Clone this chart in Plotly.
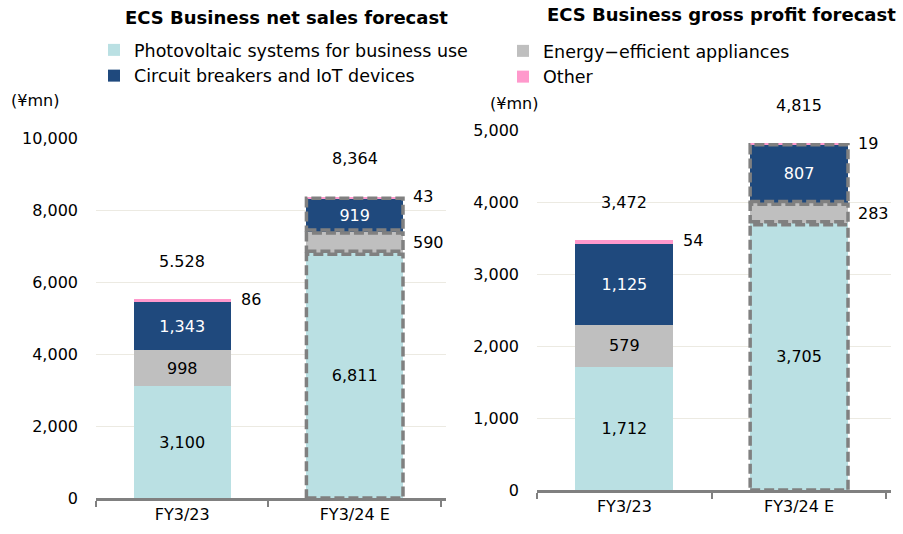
import plotly.graph_objects as go

categories = ["FY3/23", "FY3/24 E"]
series_names = ["Photovoltaic systems for business use", "Energy\u2212efficient appliances",
                "Circuit breakers and IoT devices", "Other"]
sales = {
    "pv": [3100, 6811],
    "energy": [998, 590],
    "circuit": [1343, 919],
    "other": [86, 43],
}
sales_totals = ["5.528", "8,364"]
profit = {
    "pv": [1712, 3705],
    "energy": [579, 283],
    "circuit": [1125, 807],
    "other": [54, 19],
}
profit_totals = ["3,472", "4,815"]

colors = {"pv": "#BAE0E3", "energy": "#BFBFBF", "circuit": "#1F497D", "other": "#FF99CC"}
keys = ["pv", "energy", "circuit", "other"]
legend_of = {"pv": "legend", "circuit": "legend", "energy": "legend2", "other": "legend2"}

FONT = "DejaVu Sans"
FS_TXT = 17.5
FS_NUM = 16
BAR_W = 0.56
W, H = 903, 534


def px(x):
    return x / W


def py(y):
    return 1 - y / H


fig = go.Figure()
annotations = []
shapes = []


def add_panel(data, totals, xa, ya, show_legend, rmax):
    for k, name in zip(keys, series_names):
        vals = data[k]
        if k in ("pv", "circuit"):
            txt = [f"{v:,}" for v in vals]
        elif k == "energy":
            txt = [f"{vals[0]:,}", ""]
        else:
            txt = ["", ""]
        fig.add_trace(go.Bar(
            x=categories, y=vals, name=name, width=BAR_W,
            marker=dict(color=colors[k], line=dict(width=0)),
            text=txt, textposition="inside", insidetextanchor="middle",
            textangle=0, constraintext="none",
            textfont=dict(family=FONT, size=FS_NUM,
                          color="white" if k == "circuit" else "black"),
            xaxis=xa, yaxis=ya, showlegend=show_legend,
            legend=legend_of[k], hoverinfo="skip",
        ))
    for i, cat in enumerate(categories):
        cum = 0
        tops = []
        for k in keys:
            cum += data[k][i]
            tops.append(cum)
        total = tops[-1]
        annotations.append(dict(x=cat, y=total, xref=xa, yref=ya, text=totals[i],
                                showarrow=False, yshift=38, yanchor="middle",
                                font=dict(family=FONT, size=FS_NUM, color="black")))
        annotations.append(dict(x=i + BAR_W / 2, y=total, xref=xa, yref=ya,
                                text=f"{data['other'][i]:,}", showarrow=False,
                                xanchor="left", yanchor="middle", xshift=8,
                                font=dict(family=FONT, size=FS_NUM, color="black")))
        if i == 1:
            e_mid = (tops[0] + tops[1]) / 2
            annotations.append(dict(x=i + BAR_W / 2, y=e_mid, xref=xa, yref=ya,
                                    text=f"{data['energy'][i]:,}", showarrow=False,
                                    xanchor="left", yanchor="middle", xshift=8,
                                    font=dict(family=FONT, size=FS_NUM, color="black")))
            inset = rmax * 0.004
            bounds = [(0, tops[0]), (tops[0], tops[1]), (tops[1], tops[3])]
            for j, (b0, b1) in enumerate(bounds):
                shapes.append(dict(type="rect", xref=xa, yref=ya,
                                   x0=i - BAR_W / 2, x1=i + BAR_W / 2,
                                   y0=b0 + (inset if j > 0 else 0), y1=b1 - inset,
                                   line=dict(color="#808080", width=3.5, dash="10px,4px"),
                                   fillcolor="rgba(0,0,0,0)", layer="above"))


add_panel(sales, sales_totals, "x", "y", True, 10000)
add_panel(profit, profit_totals, "x2", "y2", False, 5000)

xcommon = dict(type="category", showline=True, linecolor="#808080", linewidth=2.5,
               ticks="outside", tickson="boundaries", ticklen=6, tickwidth=2,
               tickcolor="#808080", showgrid=False,
               tickfont=dict(family=FONT, size=16, color="black"),
               fixedrange=True)
ycommon = dict(showline=False, showgrid=True, gridcolor="#ECEAE2", gridwidth=1,
               ticks="", tickfont=dict(family=FONT, size=FS_NUM, color="black"),
               zeroline=False, tickformat=",d", ticklabelstandoff=17)

leg_font = dict(family=FONT, size=FS_TXT, color="black")
fig.update_layout(
    width=W, height=H,
    margin=dict(l=0, r=0, t=0, b=0, autoexpand=False),
    paper_bgcolor="white", plot_bgcolor="white",
    barmode="stack",
    xaxis=dict(domain=[px(96), px(446)], anchor="y", **xcommon),
    xaxis2=dict(domain=[px(537), px(891)], anchor="y2", **xcommon),
    yaxis=dict(domain=[py(498), py(138)], range=[0, 10000], dtick=2000,
               anchor="x", **ycommon),
    yaxis2=dict(domain=[py(490), py(130)], range=[0, 5000], dtick=1000,
                anchor="x2", **ycommon),
    legend=dict(x=px(94), y=py(32), xanchor="left", yanchor="top",
                orientation="v", font=leg_font,
                bgcolor="rgba(0,0,0,0)", traceorder="normal", tracegroupgap=0),
    legend2=dict(x=px(503), y=py(33), xanchor="left", yanchor="top",
                 orientation="v", font=leg_font,
                 bgcolor="rgba(0,0,0,0)", traceorder="normal", tracegroupgap=0),
    showlegend=True,
    shapes=shapes,
)

titles = [("ECS Business net sales forecast", 286, 18),
          ("ECS Business gross profit forecast", 721, 15)]
for t, xp, yp in titles:
    annotations.append(dict(x=px(xp), y=py(yp), xref="paper", yref="paper", text=f"<b>{t}</b>",
                            showarrow=False, xanchor="center", yanchor="middle",
                            font=dict(family=FONT, size=18, color="black")))
for xp, yp in [(35, 100), (514, 103)]:
    annotations.append(dict(x=px(xp), y=py(yp), xref="paper", yref="paper", text="(¥mn)",
                            showarrow=False, xanchor="center", yanchor="middle",
                            font=dict(family=FONT, size=FS_NUM, color="black")))
fig.update_layout(annotations=annotations)

fig.write_html("out.html", config={"displayModeBar": False},
               post_script="document.body.style.margin='0';document.body.style.padding='0';")
